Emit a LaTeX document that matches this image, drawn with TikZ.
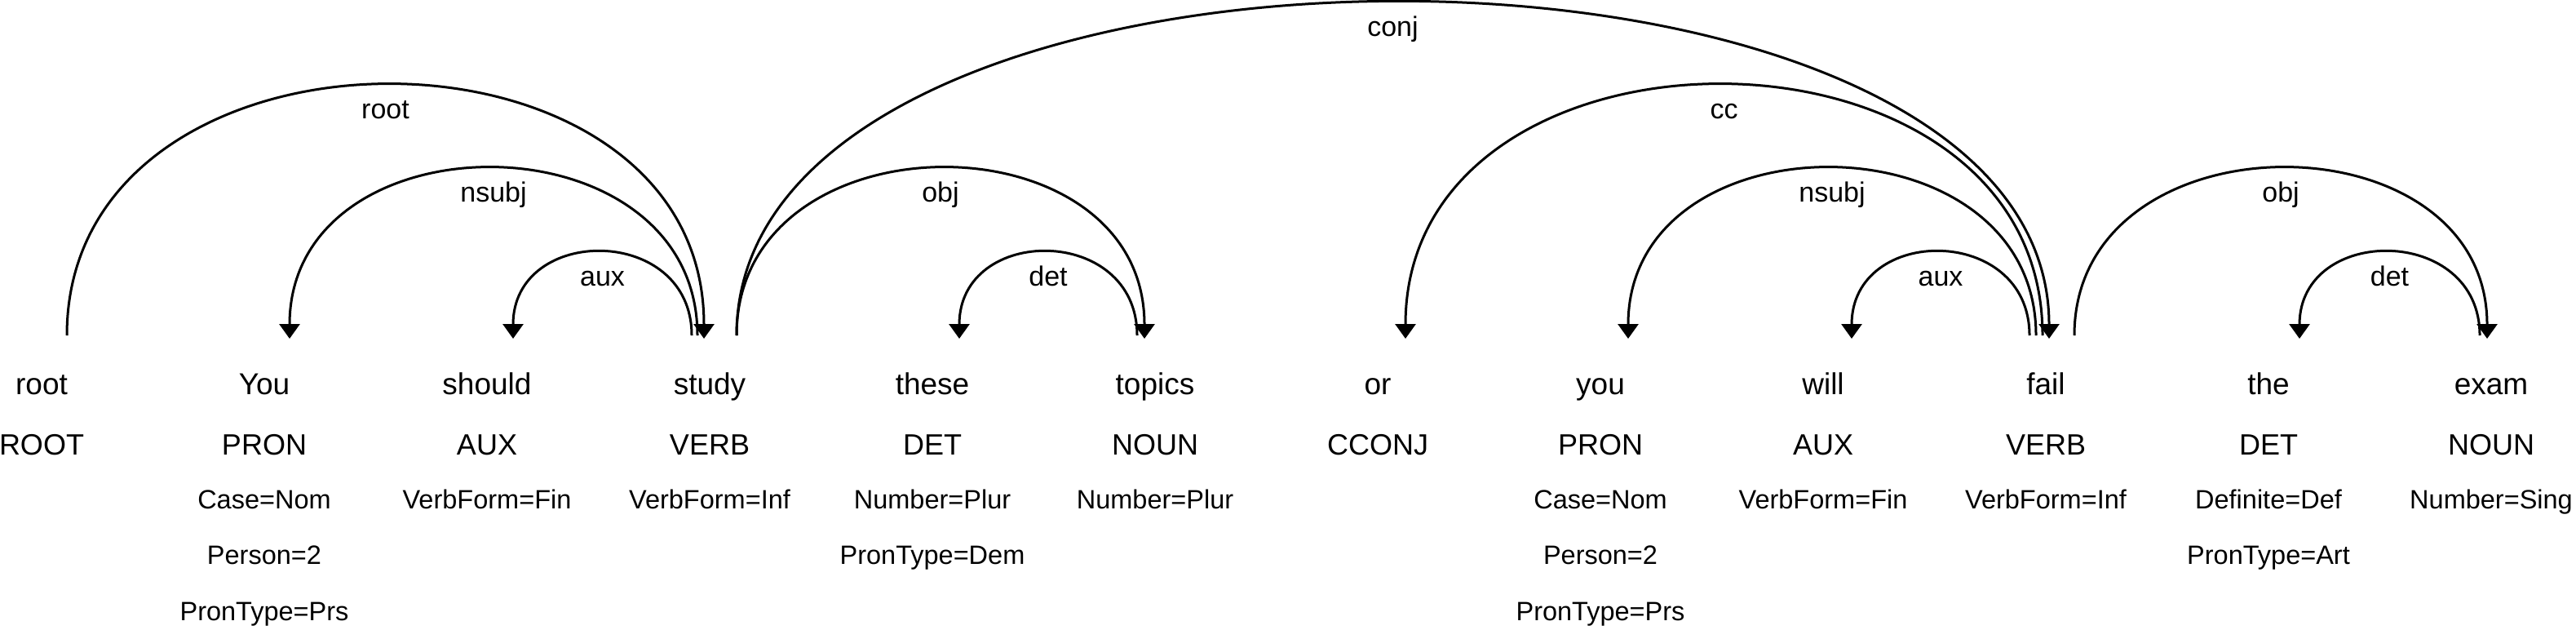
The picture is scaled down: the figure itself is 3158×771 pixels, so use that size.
\documentclass[tikz,border=0pt]{standalone}
\usepackage{fontspec}
\setmainfont{Liberation Sans}
\usetikzlibrary{arrows.meta}
\begin{document}
\begin{tikzpicture}[x=1pt,y=-1pt,
  word/.style={anchor=base,inner sep=0pt,font=\fontsize{37}{40}\selectfont},
  posn/.style={anchor=base,inner sep=0pt,font=\fontsize{36}{40}\selectfont},
  feat/.style={anchor=base,inner sep=0pt,font=\fontsize{32.5}{36}\selectfont},
  lab/.style={anchor=base,inner sep=0pt,font=\fontsize{34}{38}\selectfont},
  arc/.style={line width=3pt,-{Triangle[length=18pt,width=25pt]}},
  plainarc/.style={line width=3pt}]
\useasboundingbox (0,0) rectangle (3158,771);
% words
\foreach \i/\w/\p in {0/root/ROOT,1/You/PRON,2/should/AUX,3/study/VERB,4/these/DET,5/topics/NOUN,6/or/CCONJ,7/you/PRON,8/will/AUX,9/fail/VERB,10/the/DET,11/exam/NOUN}{
  \node[word] (w\i) at ({51+273*\i},483) {\w};
  \node[posn] (p\i) at ({51+273*\i},557) {\p};
}
% features
\node[feat] (f1a) at (324,623) {Case=Nom};
\node[feat] (f1b) at (324,691) {Person=2};
\node[feat] (f1c) at (324,760) {PronType=Prs};
\node[feat] (f2a) at (597,623) {VerbForm=Fin};
\node[feat] (f3a) at (870,623) {VerbForm=Inf};
\node[feat] (f4a) at (1143,623) {Number=Plur};
\node[feat] (f4b) at (1143,691) {PronType=Dem};
\node[feat] (f5a) at (1416,623) {Number=Plur};
\node[feat] (f7a) at (1962,623) {Case=Nom};
\node[feat] (f7b) at (1962,691) {Person=2};
\node[feat] (f7c) at (1962,760) {PronType=Prs};
\node[feat] (f8a) at (2235,623) {VerbForm=Fin};
\node[feat] (f9a) at (2508,623) {VerbForm=Inf};
\node[feat] (f10a) at (2781,623) {Definite=Def};
\node[feat] (f10b) at (2781,691) {PronType=Art};
\node[feat] (f11a) at (3054,623) {Number=Sing};
% ports
\coordinate (rootOut) at (82,411);
\coordinate (youIn) at (355,415);
\coordinate (shouldIn) at (629,415);
\coordinate (studyAux) at (848,411);
\coordinate (studyNsubj) at (855,411);
\coordinate (studyIn) at (863,415);
\coordinate (studyR) at (903,411);
\coordinate (theseIn) at (1176,415);
\coordinate (topicsDet) at (1394,411);
\coordinate (topicsIn) at (1403,415);
\coordinate (orIn) at (1723,415);
\coordinate (you2In) at (1996,415);
\coordinate (willIn) at (2270,415);
\coordinate (failAux) at (2488,411);
\coordinate (failNsubj) at (2496,411);
\coordinate (failCc) at (2504,411);
\coordinate (failIn) at (2512,415);
\coordinate (failObj) at (2543,411);
\coordinate (theIn) at (2819,415);
\coordinate (examDet) at (3040,411);
\coordinate (examIn) at (3049,415);
% arcs
\draw[arc] (rootOut) .. controls +(0,-409) and +(0,-413) .. (studyIn);
\draw[arc] (studyNsubj) .. controls +(0,-273) and +(0,-277) .. (youIn);
\draw[arc] (studyAux) .. controls +(0,-136) and +(0,-140) .. (shouldIn);
\draw[arc] (studyR) .. controls +(0,-273) and +(0,-277) .. (topicsIn);
\draw[arc] (topicsDet) .. controls +(0,-136) and +(0,-140) .. (theseIn);
\draw[arc] (studyR) .. controls +(0,-544) and +(0,-548) .. (failIn);
\draw[arc] (failCc) .. controls +(0,-409) and +(0,-413) .. (orIn);
\draw[arc] (failNsubj) .. controls +(0,-273) and +(0,-277) .. (you2In);
\draw[arc] (failAux) .. controls +(0,-136) and +(0,-140) .. (willIn);
\draw[arc] (failObj) .. controls +(0,-273) and +(0,-277) .. (examIn);
\draw[arc] (examDet) .. controls +(0,-136) and +(0,-140) .. (theIn);
% labels
\node[lab] (l1) at (472.5,145.5) {root};
\node[lab] (l2) at (605,247.5) {nsubj};
\node[lab] (l3) at (738.5,350.5) {aux};
\node[lab] (l4) at (1153,247.5) {obj};
\node[lab] (l5) at (1285,350.5) {det};
\node[lab] (l6) at (1707.5,44) {conj};
\node[lab] (l7) at (2113.5,145.5) {cc};
\node[lab] (l8) at (2246,247.5) {nsubj};
\node[lab] (l9) at (2379,350.5) {aux};
\node[lab] (l10) at (2796,247.5) {obj};
\node[lab] (l11) at (2929.5,350.5) {det};
\end{tikzpicture}
\end{document}
